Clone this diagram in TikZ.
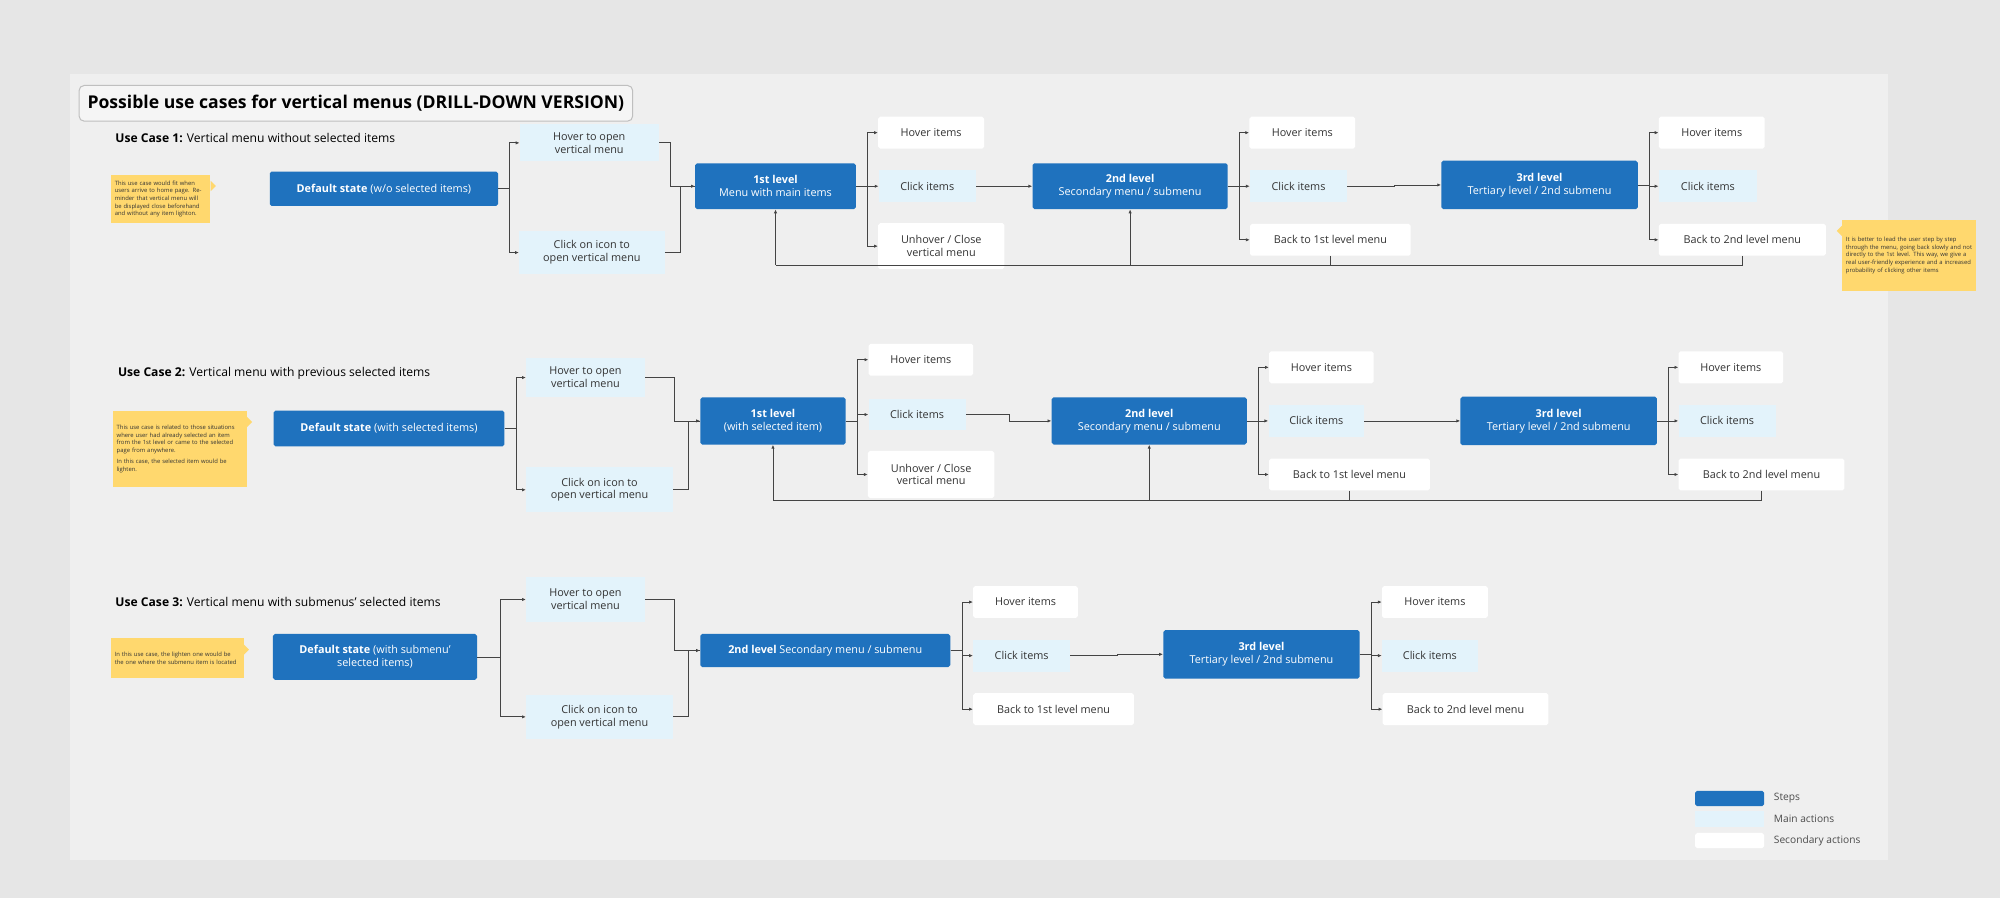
\documentclass[tikz,border=0pt]{standalone}
\usepackage{fontspec}
\setmainfont{Open Sans}
\usetikzlibrary{calc,arrows.meta}
\definecolor{stepblue}{HTML}{1F72BE}
\definecolor{mainblue}{HTML}{E3F3FB}
\definecolor{notey}{HTML}{FFD86E}
\definecolor{panel}{HTML}{EFEFEF}
\definecolor{outer}{HTML}{E6E6E6}
\definecolor{wire}{HTML}{444444}
\tikzset{
  box/.style={inner sep=1pt,align=center,font=\fontsize{8.5}{10}\selectfont,text=black!80,minimum width=#1},
  step/.style={box=#1,fill=stepblue,text=white,rounded corners=1.5pt},
  main/.style={box=#1,fill=mainblue},
  sec/.style={box=#1,fill=white,rounded corners=1.5pt},
  note/.style={fill=notey,text width=#1,align=left,inner sep=3pt,font=\fontsize{4.6}{6}\selectfont,text=black!80},
  case/.style={anchor=west,font=\fontsize{9.5}{11}\selectfont},
  wr/.style={draw=wire,line width=0.6pt},
  arr/.style={wr,-{Latex[length=3pt,width=2.6pt]}},
}
% pointer of a sticky note
\newcommand{\tip}[1]{\fill[notey] ($(#1.north east)+(0,5)$) -- ++(4,4) -- ++(-4,4) -- cycle;}
\begin{document}
\begin{tikzpicture}[x=1pt,y=-1pt]
\fill[outer] (0,0) rectangle (1568,704);
\fill[panel] (55,58) rectangle (1480,674);
\useasboundingbox (0,0) rectangle (1568,704);
% title
\node[draw=black!25,fill=panel!60!white,rounded corners=4pt,line width=0.8pt,minimum width=434,minimum height=28,font=\fontsize{13.8}{15}\selectfont\bfseries] (title) at (279,81) {Possible use cases for vertical menus (DRILL-DOWN VERSION)};

%%% use case 1
\node[case] (uc1) at (87,108) {\textbf{Use Case 1:} Vertical menu without selected items};
\node[note=72,minimum height=38] (n1) at (126,156) {This use case would fit when users arrive to home page. Reminder that vertical menu will be displayed close beforehand and without any item lighton.};
\tip{n1}
\node[step=179,minimum height=27] (d1) at (301,148) {\textbf{Default state} (w/o selected items)};
\node[main=109,minimum height=29] (h1) at (462,112) {Hover to open\\vertical menu};
\node[main=114,minimum height=34] (c1) at (464,198) {Click on icon to\\open vertical menu};
\node[step=126,minimum height=36] (a1) at (608,146) {\textbf{1st level}\\Menu with main items};
\node[sec=83,minimum height=25] (a1h) at (730,104) {Hover items};
\node[main=76,minimum height=25] (a1c) at (727,146) {Click items};
\node[sec=99,minimum height=36] (a1u) at (738,193) {Unhover / Close\\vertical menu};
\node[step=153,minimum height=36] (b1) at (886,146) {\textbf{2nd level}\\Secondary menu / submenu};
\node[sec=83,minimum height=25] (b1h) at (1021,104) {Hover items};
\node[main=76,minimum height=25] (b1c) at (1018,146) {Click items};
\node[sec=126,minimum height=25] (b1b) at (1043,188) {Back to 1st level menu};
\node[step=154,minimum height=38] (t1) at (1207,145) {\textbf{3rd level}\\Tertiary level / 2nd submenu};
\node[sec=83,minimum height=25] (t1h) at (1342,104) {Hover items};
\node[main=77,minimum height=25] (t1c) at (1339,146) {Click items};
\node[sec=131,minimum height=25] (t1b) at (1366,188) {Back to 2nd level menu};
\node[note=99,minimum height=56,anchor=north west] (n4) at (1444,172) {It is better to lead the user step by step through the menu, going back slowly and not directly to the 1st level. This way, we give a real user-friendly experience and a increased probability of clicking other items};
\fill[notey] ($(n4.north west)+(0,5)$) -- ++(-4,4) -- ++(4,4) -- cycle;
\draw[arr] (d1.east) -- ++(9,0) |- (h1.west);
\draw[arr] (d1.east) -- ++(9,0) |- (c1.west);
\draw[wr] (h1.east) -- ++(9,0) |- (a1.west);
\draw[arr] (c1.east) -- ++(12,0) |- (a1.west);
\foreach \t in {a1h,a1c,a1u} \draw[arr] (a1.east) -- ++(9,0) |- (\t.west);
\draw[arr] (a1c) -- (b1);
\foreach \t in {b1h,b1c,b1b} \draw[arr] (b1.east) -- ++(9,0) |- (\t.west);
\draw[arr] (b1c.east) -- ++(37,0) |- (t1.west);
\foreach \t in {t1h,t1c,t1b} \draw[arr] (t1.east) -- ++(9,0) |- (\t.west);
\coordinate (f1) at (608,208);
\draw[wr] (t1b.south) |- (f1);
\draw[wr] (b1b.south) -- (b1b.south|-f1);
\draw[arr] (f1) -- (a1.south);
\draw[arr] (b1.south|-f1) -- (b1.south);

%%% use case 2
\node[case] (uc2) at (89,293) {\textbf{Use Case 2:} Vertical menu with previous selected items};
\node[note=99,minimum height=60] (n2) at (141,352) {This use case is related to those situations where user had already selected an item from the 1st level or came to the selected page from anywhere.\\[3pt]In this case, the selected item would be lighten.};
\tip{n2}
\node[step=181,minimum height=28] (d2) at (305,336) {\textbf{Default state} (with selected items)};
\node[main=93,minimum height=31] (h2) at (459,296) {Hover to open\\vertical menu};
\node[main=115,minimum height=35] (c2) at (470,384) {Click on icon to\\open vertical menu};
\node[step=114,minimum height=37] (a2) at (606,330) {\textbf{1st level}\\(with selected item)};
\node[sec=82,minimum height=25] (a2h) at (722,282) {Hover items};
\node[main=76,minimum height=25] (a2c) at (719,325) {Click items};
\node[sec=99,minimum height=37] (a2u) at (730,372) {Unhover / Close\\vertical menu};
\node[step=153,minimum height=37] (b2) at (901,330) {\textbf{2nd level}\\Secondary menu / submenu};
\node[sec=82,minimum height=25] (b2h) at (1036,288) {Hover items};
\node[main=75,minimum height=25] (b2c) at (1032,330) {Click items};
\node[sec=126,minimum height=25] (b2b) at (1058,372) {Back to 1st level menu};
\node[step=154,minimum height=38] (t2) at (1222,330) {\textbf{3rd level}\\Tertiary level / 2nd submenu};
\node[sec=82,minimum height=25] (t2h) at (1357,288) {Hover items};
\node[main=76,minimum height=25] (t2c) at (1354,330) {Click items};
\node[sec=130,minimum height=25] (t2b) at (1381,372) {Back to 2nd level menu};
\draw[arr] (d2.east) -- ++(9,0) |- (h2.west);
\draw[arr] (d2.east) -- ++(9,0) |- (c2.west);
\draw[wr] (h2.east) -- ++(23,0) |- (a2.west);
\draw[arr] (c2.east) -- ++(12,0) |- (a2.west);
\foreach \t in {a2h,a2c,a2u} \draw[arr] (a2.east) -- ++(9,0) |- (\t.west);
\draw[arr] (a2c.east) -- ++(34,0) |- (b2.west);
\foreach \t in {b2h,b2c,b2b} \draw[arr] (b2.east) -- ++(9,0) |- (\t.west);
\draw[arr] (b2c.east) -- ++(37,0) |- (t2.west);
\foreach \t in {t2h,t2c,t2b} \draw[arr] (t2.east) -- ++(9,0) |- (\t.west);
\coordinate (f2) at (606,392);
\draw[wr] (t2b.south) |- (f2);
\draw[wr] (b2b.south) -- (b2b.south|-f2);
\draw[arr] (f2) -- (a2.south);
\draw[arr] (b2.south|-f2) -- (b2.south);

%%% use case 3
\node[case] (uc3) at (87,472) {\textbf{Use Case 3:} Vertical menu with submenus' selected items};
\node[note=98,minimum height=31] (n3) at (139,516) {In this use case, the lighten one would be the one where the submenu item is located};
\tip{n3}
\node[step=160,minimum height=36] (d3) at (294,515) {\textbf{Default state} (with submenu'\\selected items)};
\node[main=93,minimum height=35] (h3) at (459,470) {Hover to open\\vertical menu};
\node[main=115,minimum height=34] (c3) at (470,562) {Click on icon to\\open vertical menu};
\node[step=196,minimum height=26] (b3) at (647,510) {\textbf{2nd level} Secondary menu / submenu};
\node[sec=82,minimum height=25] (b3h) at (804,472) {Hover items};
\node[main=76,minimum height=25] (b3c) at (801,514) {Click items};
\node[sec=126,minimum height=25] (b3b) at (826,556) {Back to 1st level menu};
\node[step=154,minimum height=38] (t3) at (989,513) {\textbf{3rd level}\\Tertiary level / 2nd submenu};
\node[sec=83,minimum height=25] (t3h) at (1125,472) {Hover items};
\node[main=75,minimum height=25] (t3c) at (1121,514) {Click items};
\node[sec=130,minimum height=25] (t3b) at (1149,556) {Back to 2nd level menu};
\draw[arr] (d3.east) -- ++(18,0) |- (h3.west);
\draw[arr] (d3.east) -- ++(18,0) |- (c3.west);
\draw[wr] (h3.east) -- ++(23,0) |- (b3.west);
\draw[arr] (c3.east) -- ++(12,0) |- (b3.west);
\foreach \t in {b3h,b3c,b3b} \draw[arr] (b3.east) -- ++(9,0) |- (\t.west);
\draw[arr] (b3c.east) -- ++(37,0) |- (t3.west);
\foreach \t in {t3h,t3c,t3b} \draw[arr] (t3.east) -- ++(9,0) |- (\t.west);

%%% legend
\node[step=54,minimum height=12] (k1) at (1356,626) {};
\node[main=54,minimum height=12] (k2) at (1356,642) {};
\node[sec=54,minimum height=12] (k3) at (1356,659) {};
\foreach \k/\t in {k1/Steps,k2/Main actions,k3/Secondary actions}
  \node[anchor=west,font=\fontsize{8}{9}\selectfont,text=black!70] at ($(\k.east)+(4,0)$) {\t};
\end{tikzpicture}
\end{document}
